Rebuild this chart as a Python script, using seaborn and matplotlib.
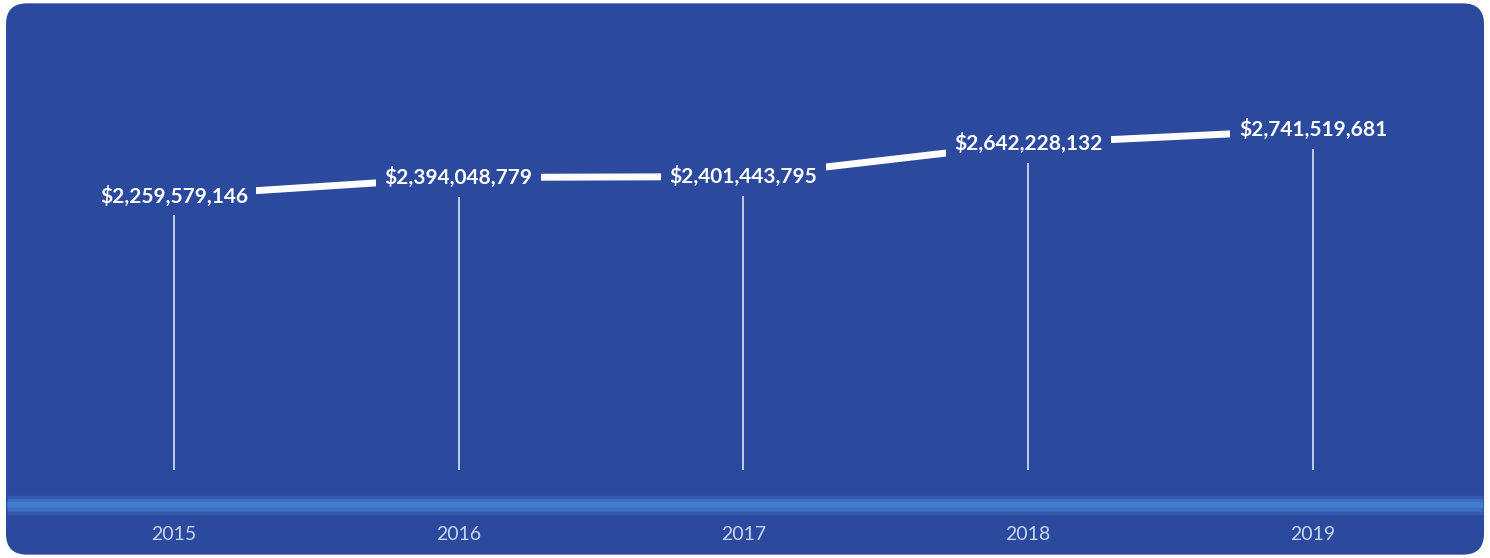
import numpy as np
import pandas as pd
import seaborn as sns
import matplotlib.pyplot as plt
from matplotlib.patches import FancyBboxPatch

# data
years = [2015, 2016, 2017, 2018, 2019]
values = [2259579146, 2394048779, 2401443795, 2642228132, 2741519681]
labels = ['$2,259,579,146', '$2,394,048,779', '$2,401,443,795',
          '$2,642,228,132', '$2,741,519,681']

df = pd.DataFrame({'year': years, 'value': np.array(values) / 1e9})

bg = '#2c4a9d'

sns.set_style('white')
plt.rcParams['font.family'] = ['Lato', 'DejaVu Sans']

fig = plt.figure(figsize=(14.9, 5.58), dpi=100)
fig.patch.set_facecolor('white')

ax = fig.add_axes([0, 0, 1, 1])
ax.set_facecolor('none')
ax.set_xlim(2014.389, 2019.622)
ax.set_ylim(-0.383, 3.690)
ax.axis('off')

# rounded panel
panel = FancyBboxPatch((0.004, 0.006), 0.992, 0.988,
                       boxstyle='round,pad=0,rounding_size=0.0141',
                       transform=ax.transAxes, facecolor=bg,
                       edgecolor='none', mutation_aspect=1490 / 558,
                       zorder=0)
ax.add_patch(panel)

# soft light band near the bottom
band_y = 2.2596 - (505 - 196) / 137
for lw, a in [(14, 0.25), (9, 0.4), (4, 0.5)]:
    ax.axhline(band_y, xmin=0.005, xmax=0.995, color='#4a8ce0', lw=lw,
               alpha=a, zorder=1, solid_capstyle='butt')

# vertical stems
base = 2.2596 - (470 - 196) / 137
for yr, v in zip(df['year'], df['value']):
    ax.vlines(yr, base, v - 19 / 137, color='#d8e2f5', lw=1.2, zorder=2)

# line
sns.lineplot(data=df, x='year', y='value', ax=ax, color='white', lw=5,
             zorder=3, legend=False)

# value labels
for yr, v, lab in zip(df['year'], df['value'], labels):
    ax.text(yr, v, lab, ha='center', va='center', color='white',
            fontsize=15, fontweight='bold', zorder=5,
            bbox=dict(boxstyle='square,pad=0.4', facecolor=bg,
                      edgecolor='none'))

# year labels
year_y = 2.2596 - (535 - 196) / 137
for yr in years:
    ax.text(yr, year_y, str(yr), ha='center', va='center',
            color='#c9d5f0', fontsize=14, zorder=5)

fig.savefig('out.png', dpi=100, facecolor='white')
